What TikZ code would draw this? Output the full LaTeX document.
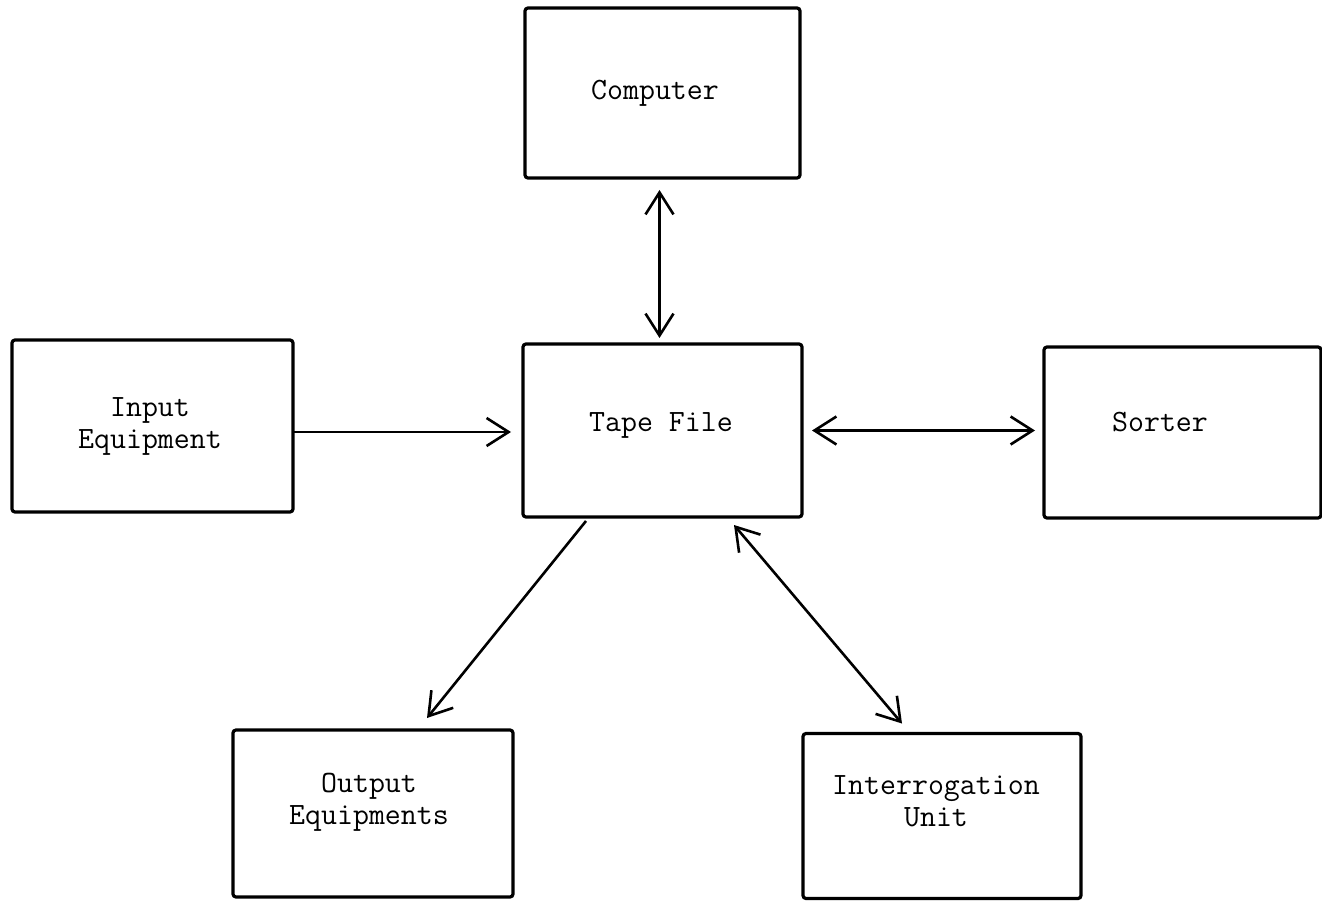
\documentclass[tikz,border=0pt]{standalone}
\usetikzlibrary{arrows.meta,calc}
\begin{document}
\begin{tikzpicture}[x=1pt,y=-1pt,
  box/.style={draw,line width=3.2pt,rounded corners=3pt,inner sep=0pt,outer sep=0pt},
  lbl/.style={font=\fontsize{31}{32}\selectfont\ttfamily,align=center,inner sep=0pt},
  tip/.tip={Straight Barb[length=22pt,width=28pt]},
  arr/.style={line width=2.6pt,-tip},
  biarr/.style={line width=2.6pt,tip-tip}]
\useasboundingbox (0,0) rectangle (1322,901);
% boxes
\node[box,minimum width=275pt,minimum height=170pt] (comp)   at (662.5,93)  {};
\node[box,minimum width=279pt,minimum height=173pt] (tape)   at (662.5,430.5) {};
\node[box,minimum width=281pt,minimum height=172pt] (input)  at (152.5,426) {};
\node[box,minimum width=277pt,minimum height=171pt] (sorter) at (1182.5,432.5) {};
\node[box,minimum width=280pt,minimum height=167pt] (output) at (373,813.5) {};
\node[box,minimum width=278pt,minimum height=165pt] (interr) at (942,816) {};
% labels
\node[lbl] (comp-t)   at (655,93)   {Computer};
\node[lbl] (tape-t)   at (661,425)  {Tape File};
\node[lbl] (input-t)  at (150,426)  {Input\\Equipment};
\node[lbl] (sorter-t) at (1160,422) {Sorter};
\node[lbl] (output-t) at (369,802)  {Output\\Equipments};
\node[lbl] (interr-t) at (936,801)  {Interrogation\\Unit};
% connectors
\draw[biarr] ($(comp.south)+(-3,12)$) -- ($(tape.north)+(-3,-6)$);
\draw[arr]   ($(input.east)+(0,6)$) -- ($(tape.west)+(-12,1.5)$);
\draw[biarr] ($(tape.east)+(10,0)$) -- ($(sorter.west)+(-9,-2)$);
\draw[arr]   ($(tape.south)+(-76.5,4)$) -- ($(output.north)+(54,-12)$);
\draw[biarr] ($(tape.south)+(71.5,8)$) -- ($(interr.north)+(-40,-10)$);
\end{tikzpicture}
\end{document}
